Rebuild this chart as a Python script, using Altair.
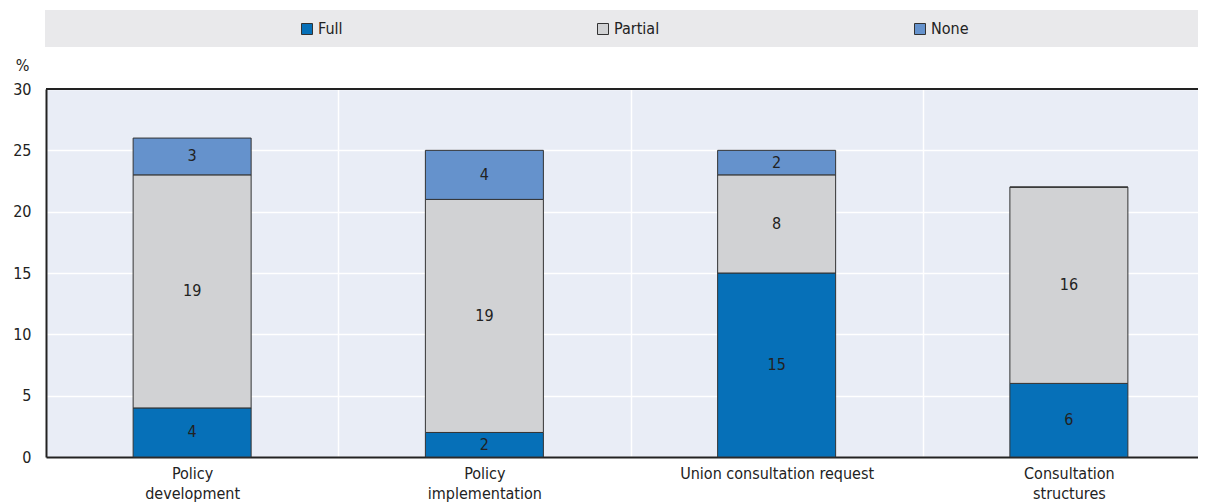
import altair as alt
import pandas as pd

categories = ["Policy development", "Policy implementation", "Union consultation request", "Consultation structures"]
label_lines = [["Policy", "development"], ["Policy", "implementation"], ["Union consultation request"], ["Consultation", "structures"]]
series = ["Full", "Partial", "None"]
full = [4, 2, 15, 6]
partial = [19, 19, 8, 16]
none_ = [3, 4, 2, 0]
colors = ["#0670b8", "#d1d2d4", "#6592cc"]

rows = []
for i, c in enumerate(categories):
    for j, (s, vals) in enumerate(zip(series, [full, partial, none_])):
        rows.append({"cat": c, "series": s, "order": j, "value": vals[i]})
df = pd.DataFrame(rows)

W, H = 1152, 368
BAND_END = 1169
FONT = "DejaVu Sans Condensed, DejaVu Sans, sans-serif"
FS = 16

label_expr = " : ".join(
    f"datum.value == '{c}' ? {lines!r}" for c, lines in zip(categories, label_lines)
) + " : datum.label"

base = alt.Chart(df).transform_stack(
    stack="value", groupby=["cat"], as_=["y0", "y1"], sort=[alt.SortField("order")]
).transform_calculate(mid="(datum.y0 + datum.y1) / 2")

xscale = alt.Scale(paddingInner=0, paddingOuter=0, range=[0, BAND_END])

xenc = alt.X("cat:N", sort=categories, title=None, scale=xscale,
             axis=alt.Axis(labelExpr=label_expr, labelAngle=0, labelFontSize=FS,
                           labelFont=FONT, labelColor="#222", labelLineHeight=20,
                           labelPadding=8, labelBaseline="top", labelLimit=0,
                           ticks=False, tickBand="extent", grid=True,
                           gridColor="white", gridWidth=1.5,
                           domainColor="#222", domainWidth=2))

bars = base.mark_bar(size=118, stroke="#333", strokeWidth=1).encode(
    x=xenc,
    y=alt.Y("y0:Q", title="%",
            scale=alt.Scale(domain=[0, 30], nice=False),
            axis=alt.Axis(values=[0, 5, 10, 15, 20, 25, 30], labelFontSize=FS,
                          labelFont=FONT, labelColor="#222", labelPadding=15,
                          ticks=False, grid=True, gridColor="white", gridWidth=1.5,
                          domainColor="#222", domainWidth=2,
                          titleAngle=0, titleFont=FONT, titleFontSize=FS,
                          titleFontWeight="normal", titleColor="#222",
                          titleX=-24, titleY=-24, titleAlign="center",
                          titleBaseline="middle")),
    y2="y1:Q",
    color=alt.Color("series:N", scale=alt.Scale(domain=series, range=colors),
                    title=None,
                    legend=alt.Legend(orient="none", legendX=253, legendY=-68,
                                      direction="horizontal", columns=3,
                                      columnPadding=252, symbolType="square",
                                      symbolSize=121, symbolStrokeColor="#333",
                                      symbolStrokeWidth=1, labelOffset=3,
                                      labelFontSize=FS, labelFont=FONT,
                                      labelColor="#222", padding=0)),
    order=alt.Order("order:Q"),
)

labels = base.transform_filter("datum.value > 0").mark_text(
    fontSize=FS, font=FONT, color="#222", baseline="middle"
).encode(
    x=alt.X("cat:N", sort=categories, scale=xscale),
    y=alt.Y("mid:Q"),
    text=alt.Text("value:Q"),
)

band = alt.Chart(df).mark_rect(color="#e9e9eb").encode(
    x=alt.value(-1), x2=alt.value(W), y=alt.value(-79), y2=alt.value(-42)
)
top_rule = alt.Chart(df).mark_rule(color="#222", strokeWidth=2).encode(
    x=alt.value(0), x2=alt.value(W), y=alt.value(0)
)

chart = alt.layer(band, bars, labels, top_rule).properties(
    width=W, height=H,
    autosize=alt.AutoSizeParams(type="none"),
    padding={"left": 38, "top": 81, "right": 0, "bottom": 47},
).configure_view(fill="#e9edf6", stroke=None)

chart.save("out.html", embed_options={"renderer": "svg", "actions": False})
